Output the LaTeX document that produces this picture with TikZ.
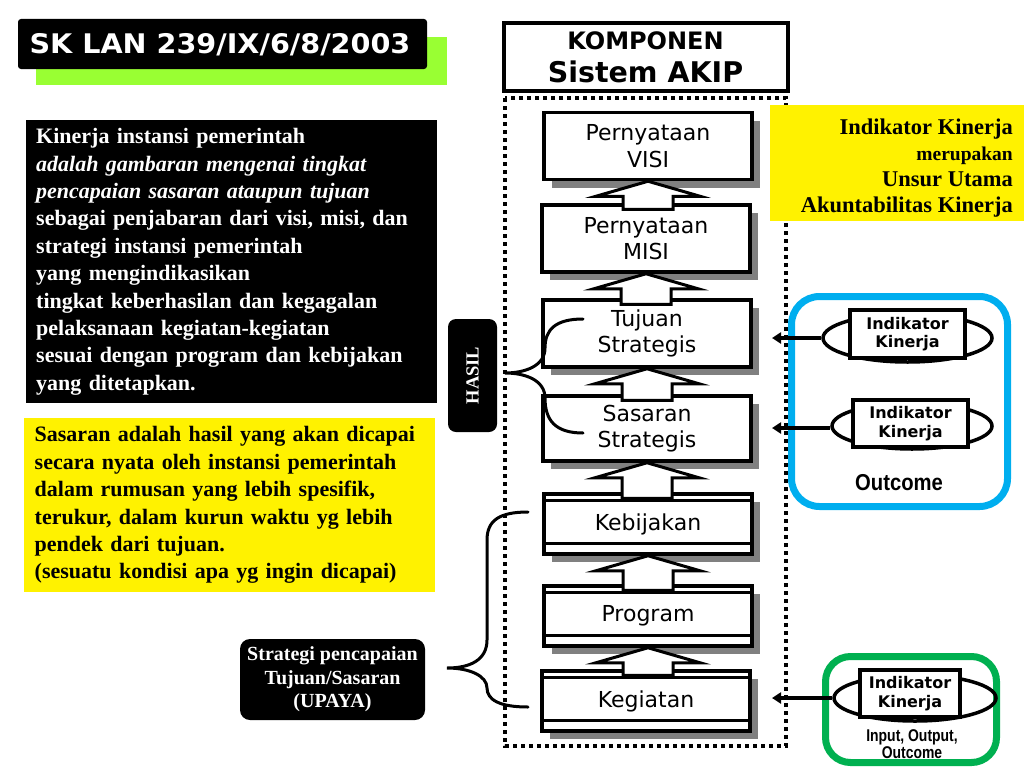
\documentclass[tikz,border=0pt]{standalone}
\usepackage{fontspec}
\setmainfont{Liberation Serif}
\newfontfamily\verd{DejaVu Sans}
\newfontfamily\verdwide[FakeStretch=1.06]{DejaVu Sans}
\newfontfamily\narrowf[FakeStretch=0.88]{Liberation Sans}
\newfontfamily\narrowerf[FakeStretch=0.82]{Liberation Sans}
\usetikzlibrary{shapes.geometric,shadows,calc,arrows.meta}
\definecolor{limeg}{HTML}{99FF33}
\definecolor{skyb}{HTML}{00AEEF}
\definecolor{greenb}{HTML}{00B050}
\definecolor{shgray}{gray}{0.5}
\newcommand{\uparr}[2]{\draw[barrow] (#1.south) -- ++(52,15) -- ++(-27,0) -- ($(#1.south |- #2.north)+(25,6)$) -- ++(-50,0) -- ($(#1.south)+(-25,15)$) -- ++(-27,0) -- cycle;}
\begin{document}
\begin{tikzpicture}[x=1pt,y=-1pt,
  comp/.style={draw, line width=3.5pt, fill=white, minimum width=208pt, minimum height=67pt,
    align=center, inner sep=0pt, font=\verd\fontsize{22}{26.5}\selectfont,
    drop shadow={shadow xshift=8pt,shadow yshift=-8pt,fill=shgray,opacity=1}},
  barrow/.style={draw, line width=3pt, fill=white, line join=miter},
  blackbox/.style={fill=black, text=white},
  ikbox/.style={draw, line width=3.5pt, fill=white, minimum width=115pt, inner sep=0pt,
    align=center, font=\verd\bfseries\fontsize{16}{18.5}\selectfont},
  ikell/.style={ellipse, draw, line width=3.5pt, inner sep=0pt},
  ikarrow/.style={line width=3.5pt, -{Triangle[length=9pt,width=11pt]}},
  brace/.style={line width=3pt, line cap=round},
]
\useasboundingbox (0,0) rectangle (1024,768);
\clip (0,0) rectangle (1024,768);

% title
\fill[limeg] (36,37) rectangle (447,85);
\node[blackbox, rounded corners=3pt, minimum width=409pt, minimum height=50pt] (titlebox) at (222.5,44) {};
\node[text=white, font=\verdwide\bfseries\fontsize{27}{30}\selectfont, anchor=base, inner sep=0pt] (title) at (220,53) {SK LAN 239/IX/6/8/2003};

% left black definition box
\node[blackbox, anchor=north west, minimum width=411pt, minimum height=283pt, text width=390pt,
  inner xsep=10.5pt, inner ysep=0pt, align=left, font=\bfseries\fontsize{22}{27.4}\selectfont] (def) at (25.5,120)
{\hyphenpenalty=10000 Kinerja instansi pemerintah\\
\textit{adalah gambaran mengenai tingkat}\\
\textit{pencapaian sasaran ataupun tujuan}\\
sebagai penjabaran dari visi, misi, dan\\
strategi instansi pemerintah\\
yang mengindikasikan\\
tingkat keberhasilan dan kegagalan\\
pelaksanaan kegiatan-kegiatan\\
sesuai dengan program dan kebijakan\\
yang ditetapkan.};

% yellow sasaran box
\node[fill=yellow, anchor=north west, minimum width=411pt, minimum height=174pt, text width=390pt,
  inner xsep=10.5pt, inner ysep=0pt, align=left, font=\bfseries\fontsize{22}{27.4}\selectfont] (sas) at (24,418)
{\hyphenpenalty=10000 Sasaran adalah hasil yang akan dicapai\\
secara nyata oleh instansi pemerintah\\
dalam rumusan yang lebih spesifik,\\
terukur, dalam kurun waktu yg lebih\\
pendek dari tujuan.\\
(sesuatu kondisi apa yg ingin dicapai)};

% strategi box
\node[blackbox, rounded corners=10pt, minimum width=185pt, minimum height=81pt, align=center,
  inner sep=0pt, font=\bfseries\fontsize{20}{23.5}\selectfont] (upaya) at (332.5,679.5)
{Strategi pencapaian\\Tujuan/Sasaran\\(UPAYA)};

% HASIL
\node[blackbox, rounded corners=8pt, minimum width=113pt, minimum height=49pt, inner sep=0pt,
  rotate=90, font=\bfseries\fontsize{18.5}{20}\selectfont] (hasil) at (472.5,375.5) {HASIL};

% dotted frame
\draw[line width=4pt, dash pattern=on 4pt off 4pt] (505,98) rectangle (786,746);

% KOMPONEN
\node[draw, line width=4pt, fill=white, minimum width=284pt, minimum height=67pt, inner sep=0pt,
  align=center, font=\verd\bfseries\fontsize{24}{33}\selectfont] (komp) at (645.5,57)
{KOMPONEN\\{\fontsize{28.5}{33}\selectfont Sistem AKIP}};

% right yellow box
\fill[yellow] (770,105) rectangle (1024,221);
\node[anchor=east, align=right, inner sep=0pt, font=\bfseries\fontsize{22.5}{26}\selectfont] (ikut) at (1013,168)
{Indikator Kinerja\\{\fontsize{19.5}{26}\selectfont merupakan}\\Unsur Utama\\Akuntabilitas Kinerja};

% components
\node[comp] (visi) at (648,146) {Pernyataan\\VISI};
\node[comp] (misi) at (646,238.5) {Pernyataan\\MISI};
\node[comp] (tujuan) at (647,333.5) {Tujuan\\Strategis};
\node[comp, minimum height=65pt] (sasaran) at (647,428.5) {Sasaran\\Strategis};
\node[comp, minimum height=60pt] (keb) at (648,524) {Kebijakan};
\node[comp, minimum height=60pt] (prog) at (648,616) {Program};
\node[comp, minimum height=60pt] (keg) at (646,701) {Kegiatan};
\foreach \n in {keb,prog,keg}{
  \draw[line width=3pt] ($(\n.north west)+(0,8)$) -- ($(\n.north east)+(0,8)$);
  \draw[line width=3pt] ($(\n.south west)+(0,-12)$) -- ($(\n.south east)+(0,-12)$);
}
\uparr{visi}{misi}
\uparr{misi}{tujuan}
\uparr{tujuan}{sasaran}
\uparr{sasaran}{keb}
\uparr{keb}{prog}
\uparr{prog}{keg}

% braces
\draw[brace] (583,319) .. controls (555,319) and (545,330) .. (545,348)
  .. controls (545,366) and (525,373) .. (505,373)
  .. controls (525,373) and (545,380) .. (545,398)
  .. controls (545,420) and (555,433) .. (583,433);
\draw[brace] (528,512) .. controls (500,512) and (487,520) .. (487,540) -- (487,640)
  .. controls (487,660) and (470,668) .. (447,668)
  .. controls (470,668) and (487,676) .. (487,688)
  .. controls (487,700) and (500,707) .. (528,707);

% outcome panel
\draw[skyb, line width=7pt, rounded corners=28pt] (791.5,296.5) rectangle (1007.5,506.5);
\node[ikell, minimum width=169pt, minimum height=48pt] (ik1e) at (907.5,338) {};
\node[ikbox, minimum height=48pt] (ik1) at (907.5,334) {Indikator\\Kinerja};
\node[ikell, minimum width=160pt, minimum height=46pt] (ik2e) at (912,426) {};
\node[ikbox, minimum height=47pt] (ik2) at (910.5,423.5) {Indikator\\Kinerja};
\node[font=\narrowf\bfseries\fontsize{23}{26}\selectfont, inner sep=0pt] (outc) at (899,483) {Outcome};
\coordinate (t1) at (772,338);
\coordinate (t2) at (772,428);
\draw[ikarrow] (ik1e.west) -- (t1);
\draw[ikarrow] (ik2e.west |- t2) -- (t2);

% input/output panel
\draw[greenb, line width=7pt, rounded corners=25pt] (825.5,656.5) rectangle (996.5,762.5);
\node[ikell, minimum width=162pt, minimum height=46pt] (ik3e) at (915,698) {};
\node[ikbox, minimum width=100pt, minimum height=47pt] (ik3) at (910,693.5) {Indikator\\Kinerja};
\node[align=center, inner sep=0pt, font=\narrowerf\bfseries\fontsize{17}{17.5}\selectfont] (io) at (912,744) {Input, Output,\\Outcome};
\coordinate (t3) at (772,698);
\draw[ikarrow] (ik3e.west) -- (t3);
\end{tikzpicture}
\end{document}
